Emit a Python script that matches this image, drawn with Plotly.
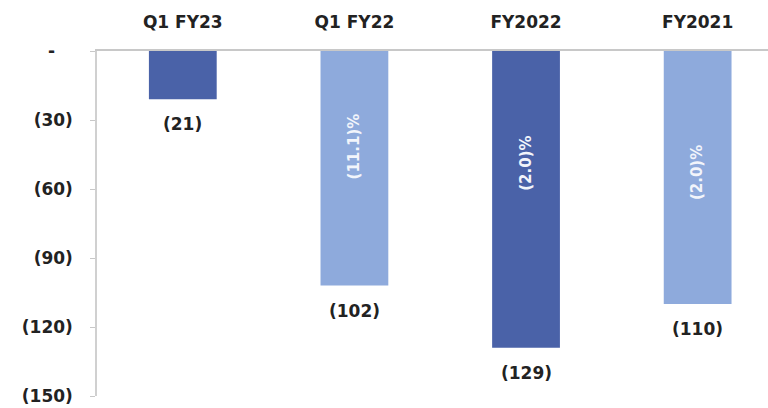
import plotly.graph_objects as go

# Net loss by period (negative values), with margin shown inside the bars
periods = ["Q1 FY23", "Q1 FY22", "FY2022", "FY2021"]
net_loss = [-21, -102, -129, -110]
margin_labels = ["", "(11.1)%", "(2.0)%", "(2.0)%"]
bar_colors = ["#4a62a8", "#8eaadc", "#4a62a8", "#8eaadc"]

y_ticks = [0, -30, -60, -90, -120, -150]
y_tick_text = ["-&nbsp;&nbsp;&nbsp;", "(30)", "(60)", "(90)", "(120)", "(150)"]

FONT = "DejaVu Sans"
TEXT_DARK = "#222222"

fig = go.Figure()
fig.add_trace(go.Bar(
    x=periods,
    y=net_loss,
    marker=dict(color=bar_colors, line=dict(width=0)),
    width=0.395,
    cliponaxis=False,
))

# value labels just below the end of each bar
for p, v in zip(periods, net_loss):
    fig.add_annotation(
        x=p, y=v, text=f"({abs(v)})", showarrow=False,
        yanchor="top", yshift=-13,
        font=dict(family=FONT, size=17, color=TEXT_DARK, weight="bold"),
    )

# rotated margin labels, placed part-way down each bar
label_depth = [0.0, 0.405, 0.38, 0.48]
for p, v, lab, d in zip(periods, net_loss, margin_labels, label_depth):
    if not lab:
        continue
    fig.add_annotation(
        x=p, y=v * d, text=lab, showarrow=False, textangle=-90,
        font=dict(family=FONT, size=15, color="#f2f5fb", weight="bold"),
    )

fig.update_layout(
    width=768, height=408,
    margin=dict(l=97, r=0, t=51, b=12),
    paper_bgcolor="white", plot_bgcolor="white",
    showlegend=False,
    xaxis=dict(
        side="top", range=[-0.5, 3.41],
        showline=True, linecolor="#c8c8c8", linewidth=1.5,
        ticks="", showgrid=False, zeroline=False,
        tickfont=dict(family=FONT, size=17, color=TEXT_DARK, weight="bold"),
        ticklabelstandoff=14,
    ),
    yaxis=dict(
        range=[-150, 0], tickvals=y_ticks, ticktext=y_tick_text,
        showline=True, linecolor="#d0d0d0", linewidth=1.5,
        ticks="outside", ticklen=5, tickcolor="#c8c8c8",
        showgrid=False, zeroline=False,
        tickfont=dict(family=FONT, size=17, color=TEXT_DARK, weight="bold"),
        ticklabelstandoff=14,
    ),
)

fig.write_html("out.html")
